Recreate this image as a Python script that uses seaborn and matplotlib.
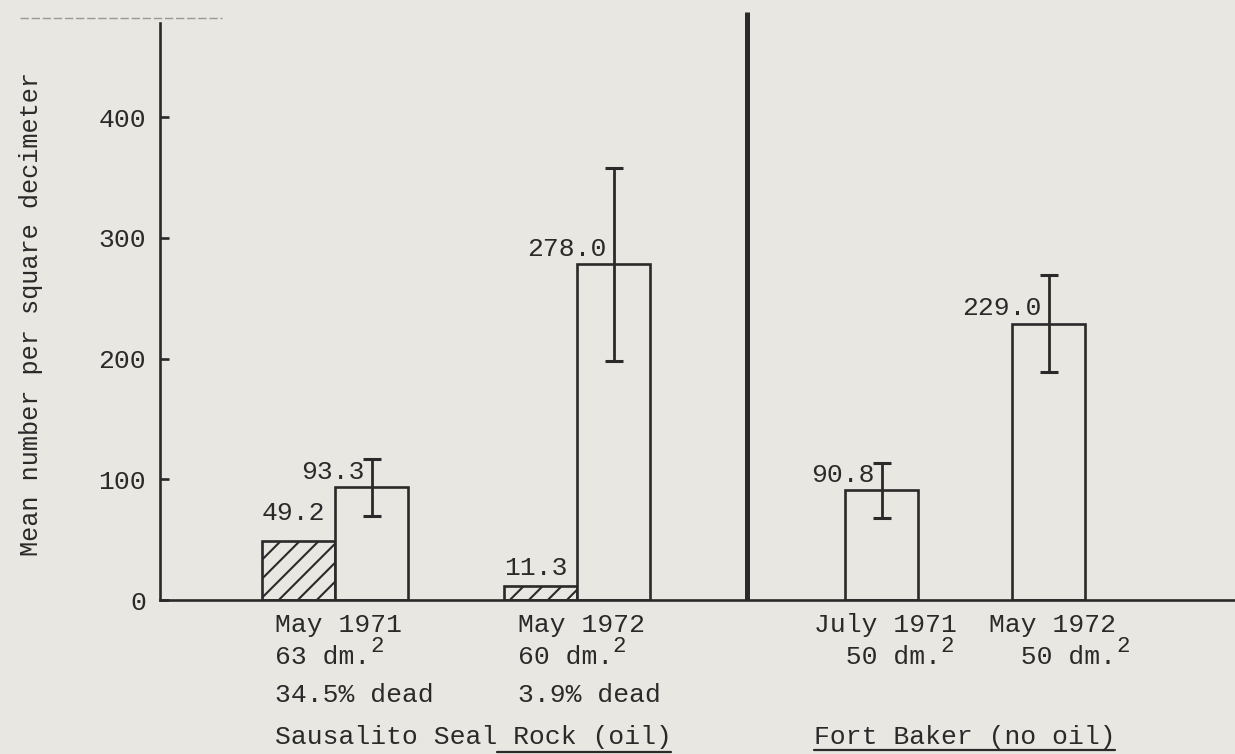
import numpy as np
import pandas as pd
import matplotlib
matplotlib.use("Agg")
import matplotlib.pyplot as plt
from matplotlib.lines import Line2D
from matplotlib.collections import LineCollection
import seaborn as sns

# ---------------- data ----------------
sites = ["Sausalito Seal Rock (oil)", "Fort Baker (no oil)"]
sample_site = [0, 0, 1, 1]
sample_dates = ["May 1971", "May 1972", "July 1971", "May 1972"]
area_dm2 = [63, 60, 50, 50]
pct_dead = [34.5, 3.9, None, None]
mean_total = [93.3, 278.0, 90.8, 229.0]
mean_dead = [49.2, 11.3, None, None]
err_total = [23.5, 80.0, 23.0, 40.0]
y_ticks = [0, 100, 200, 300, 400]
y_label = "Mean number per square decimeter"

# ---------------- layout / style ----------------
W, H = 1235, 754
BG = "#e8e7e1"
INK = "#2a2a2a"
FS = 19.0
CELL = 0.6 * FS                       # monospace cell width (pt)
total_x = [2.90, 6.22, 9.89, 12.18]   # bar slots (bar width = 1 unit)
divider_x = 8.04
XMAX, YMAX = 14.73, 478
text_shift = 0.05
line2_indent = [0, 0, 2, 2]
dead_label_dy = [17, 9]
underline_from = [14, 0]
underline_y = [752, 750]
HATCH_PX = 19                         # spacing of hatch lines (pixels)

sns.set_style("white")
plt.rcParams["font.family"] = ["Liberation Mono", "DejaVu Sans Mono"]

fig = plt.figure(figsize=(W / 100, H / 100), dpi=100, facecolor=BG)
ax = fig.add_axes([160 / W, (H - 600) / H, 1 - 160 / W, (600 - 23) / H])
ax.set_facecolor(BG)

rows = []
for i in range(len(mean_total)):
    if mean_dead[i] is not None:
        rows.append(dict(pos=total_x[i] - 1.0, value=mean_dead[i], kind="dead"))
    rows.append(dict(pos=total_x[i], value=mean_total[i], kind="total"))
df = pd.DataFrame(rows)

sns.barplot(data=df, x="pos", y="value", native_scale=True, width=1.0,
            color=BG, saturation=1, edgecolor=INK, linewidth=1.9,
            errorbar=None, ax=ax, zorder=2)

# axes limits first (needed for hatch geometry)
ax.set_xlim(0, XMAX)
ax.set_ylim(0, YMAX)

# diagonal hatching of the "dead" bars, clipped to each bar
bbox = ax.get_window_extent()
px_per_x = bbox.width / XMAX
px_per_y = bbox.height / YMAX
dx = HATCH_PX / px_per_x
dead_pos = df.loc[df.kind == "dead", "pos"].to_numpy()
for p in ax.patches:
    cx = p.get_x() + p.get_width() / 2
    if np.any(np.isclose(dead_pos, cx, atol=0.05)):
        x0, x1 = p.get_x(), p.get_x() + p.get_width()
        top = p.get_height()
        span_x = top * px_per_y / px_per_x       # 45-degree run in data x
        starts = np.arange(x0 - span_x, x1 + dx, dx)
        segs = [[(s, 0), (s + span_x, top)] for s in starts]
        lc = LineCollection(segs, colors=INK, linewidths=1.5, zorder=2.5)
        ax.add_collection(lc)
        lc.set_clip_path(p)

ax.errorbar(total_x, mean_total, yerr=err_total, fmt="none", ecolor=INK,
            elinewidth=2.0, capsize=6.5, capthick=2.2, zorder=3)

# value labels
for x, v in zip(total_x, mean_total):
    ax.text(x - 0.1, v + 7, f"{v:.1f}", ha="right", va="baseline",
            fontsize=FS, color=INK)
k = 0
for x, v in zip(total_x, mean_dead):
    if v is not None:
        ax.text(x - 1.0 - 0.07, v + dead_label_dy[k], f"{v:.1f}", ha="center",
                va="baseline", fontsize=FS, color=INK)
        k += 1

# axes styling
ax.set_yticks(y_ticks)
ax.set_xticks([])
ax.set_xlabel("")
ax.set_ylabel("")
ax.tick_params(axis="y", direction="in", length=6.5, width=1.9, pad=10,
               labelsize=FS, labelcolor=INK, color=INK, left=True)
for s in ["top", "right"]:
    ax.spines[s].set_visible(False)
for s in ["left", "bottom"]:
    ax.spines[s].set_linewidth(1.9)
    ax.spines[s].set_color(INK)

# divider between sites
ax.plot([divider_x, divider_x], [0, 487], color=INK, lw=3.6,
        clip_on=False, solid_capstyle="butt", zorder=4)

fig.text(31 / W, 1 - 314 / H, y_label, rotation=90, ha="center", va="center",
         fontsize=18.2, color=INK)

# ---------- category text under the axis ----------
def fx(xdata):
    disp = ax.transData.transform((xdata, 0))
    return fig.transFigure.inverted().transform(disp)[0]

PX_PER_PT = 100 / 72
cell_fig = CELL * PX_PER_PT / W

def typed(xfig, base_px, s, sup=None):
    fig.text(xfig, 1 - base_px / H, s, ha="left", va="baseline",
             fontsize=FS, color=INK)
    if sup:
        sx = xfig + len(s.rstrip()) * cell_fig
        fig.text(sx, 1 - (base_px - 12) / H, sup, ha="left", va="baseline",
                 fontsize=FS * 0.85, color=INK)

site_left = {}
for i in range(len(sample_dates)):
    gx = total_x[i] - 0.5 if mean_dead[i] is not None else total_x[i]
    left = fx(gx + text_shift) - len(sample_dates[i]) * cell_fig / 2
    site_left.setdefault(sample_site[i], left)
    typed(left, 632, sample_dates[i])
    typed(left, 664, " " * line2_indent[i] + f"{area_dm2[i]} dm.", sup="2")
    if pct_dead[i] is not None:
        typed(left, 702, f"{pct_dead[i]:.1f}% dead")

for j, name in enumerate(sites):
    left = site_left[j]
    typed(left, 744, name)
    x0 = left + underline_from[j] * cell_fig
    x1 = left + len(name) * cell_fig
    fig.add_artist(Line2D([x0, x1], [1 - underline_y[j] / H] * 2,
                          transform=fig.transFigure, color=INK, lw=1.6))

# faint ruled line at top of the scanned page
fig.add_artist(Line2D([20 / W, 222 / W], [1 - 18 / H] * 2, transform=fig.transFigure,
                      color="#666666", lw=1.0, dashes=(6, 2), alpha=0.6))

fig.savefig("out.png", dpi=100, facecolor=BG)
